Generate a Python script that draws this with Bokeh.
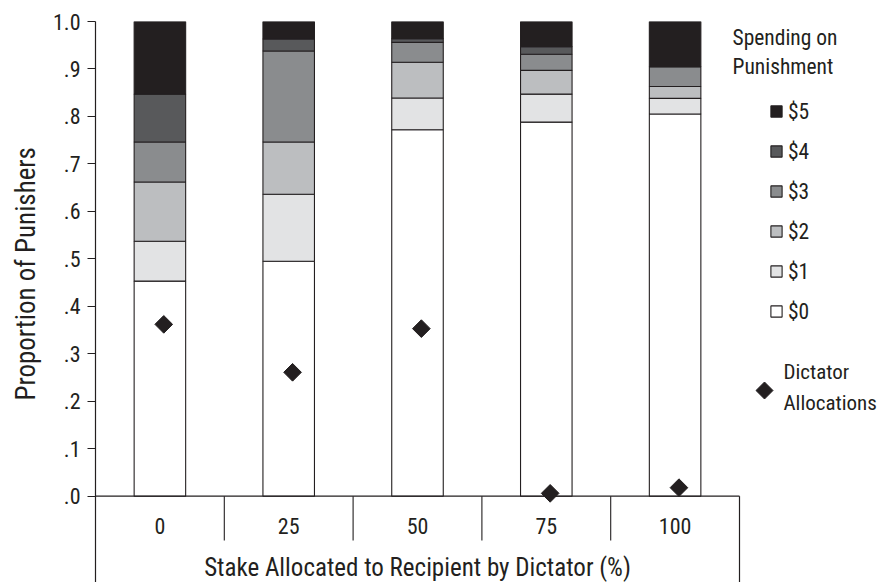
import math
from bokeh.plotting import figure
from bokeh.models import (Range1d, FixedTicker, Legend, LegendItem, Label, Title,
                          ColumnDataSource)
from bokeh.core.properties import value
from bokeh.transform import dodge
from bokeh.embed import file_html
from bokeh.resources import INLINE

FONT = "Roboto Condensed, DejaVu Sans Condensed, Liberation Sans"

# ---------------- data ----------------
stakes = ["0", "25", "50", "75", "100"]
levels = ["$0", "$1", "$2", "$3", "$4", "$5"]
p0 = [0.453, 0.495, 0.772, 0.788, 0.805]
p1 = [0.084, 0.141, 0.067, 0.059, 0.033]
p2 = [0.125, 0.110, 0.075, 0.050, 0.025]
p3 = [0.084, 0.192, 0.042, 0.034, 0.042]
p4 = [0.101, 0.025, 0.008, 0.016, 0.000]
p5 = [0.153, 0.037, 0.036, 0.053, 0.095]
dictator = [0.362, 0.261, 0.353, 0.006, 0.018]
y_ticks = [0.0, 0.1, 0.2, 0.3, 0.4, 0.5, 0.6, 0.7, 0.8, 0.9, 1.0]
y_tick_labels = [".0", ".1", ".2", ".3", ".4", ".5", ".6", ".7", ".8", ".9", "1.0"]
colors = ["#ffffff", "#e2e3e4", "#bcbec0", "#8a8c8e", "#58595b", "#231f20"]
INK = "#231f20"

# ---------------- layout (pixels) ----------------
W, H = 879, 582
LEFT, TOP = 95, 21
Y0_PX = 495.7            # pixel row of value 0
Y_PX = Y0_PX - TOP       # pixels per 1.0
CAT_PX = 128.8           # pixels per category
x_end = (W - LEFT) / CAT_PX
y_start = -(H - Y0_PX) / Y_PX


def ypix(py):
    return (Y0_PX - py) / Y_PX


def xpix(px):
    return (px - LEFT) / CAT_PX


n = len(stakes)
xc = [i + 0.5 for i in range(n)]
src = ColumnDataSource(dict(x=xc, stake=stakes, d=dictator,
                            **{lv: vals for lv, vals in zip(levels, [p0, p1, p2, p3, p4, p5])}))

p = figure(width=W, height=H, output_backend="svg", toolbar_location=None,
           x_range=Range1d(0, x_end), y_range=Range1d(y_start, 1.0),
           x_axis_type=None, min_border_left=LEFT, min_border_top=TOP,
           min_border_right=0, min_border_bottom=0)
p.outline_line_color = None
p.grid.visible = False

# y axis
ya = p.yaxis[0]
ya.ticker = FixedTicker(ticks=y_ticks)
ya.major_label_overrides = {t: l for t, l in zip(y_ticks, y_tick_labels)}
ya.major_tick_out = 8
ya.major_tick_in = 0
ya.minor_tick_line_color = None
ya.axis_line_color = INK
ya.major_tick_line_color = INK
ya.axis_line_width = 1.2
ya.major_label_standoff = 7
ya.major_label_text_font = FONT
ya.major_label_text_font_size = "22px"
ya.major_label_text_color = INK

# y title: starts at pixel row 400 and runs upward
p.add_layout(Title(text="Proportion of Punishers", align="left",
                   vertical_align="middle", offset=H - 400, standoff=14,
                   text_font=FONT, text_font_size="27px",
                   text_font_style="normal", text_color=INK), "left")

# stacked bars
rs = p.vbar_stack(levels, x="x", width=0.4, source=src, fill_color=colors,
                  line_color=INK, line_width=1.1)

# x axis line, category separators, right border
p.segment(x0=0, y0=0, x1=n, y1=0, line_color=INK, line_width=1.2)
sep_bottom = ypix(540)
p.segment(x0=list(range(1, n)), y0=[0] * (n - 1), x1=list(range(1, n)),
          y1=[sep_bottom] * (n - 1), line_color=INK, line_width=1.1)
p.segment(x0=[n], y0=[0], x1=[n], y1=[y_start], line_color=INK, line_width=1.2)

# category labels and x title
p.text(x="x", y=ypix(525.5), text="stake", source=src, text_align="center",
       text_baseline="middle", text_font=value(FONT), text_font_size="22px",
       text_color=INK)
p.text(x=[n / 2], y=[ypix(567)], text=["Stake Allocated to Recipient by Dictator (%)"],
       text_align="center", text_baseline="middle", text_font=value(FONT),
       text_font_size="25px", text_color=INK)

# dictator allocations
dm = p.scatter(x=dodge("x", 0.03, range=p.x_range), y="d", source=src,
               marker="square", angle=math.pi / 4, size=12.5,
               fill_color=INK, line_color=INK)

# legend: spending on punishment
p.add_layout(Label(x=732 - LEFT, y=H - 24, x_units="screen", y_units="screen",
                   text="Spending on\nPunishment", text_font=FONT,
                   text_font_size="21.5px", text_color=INK,
                   text_baseline="top", text_line_height=1.16))

leg = Legend(items=[LegendItem(label=lv, renderers=[r]) for lv, r in
                    reversed(list(zip(levels, rs)))],
             location=(769 - LEFT, H - 324), padding=0, margin=0,
             spacing=14, glyph_width=14, glyph_height=14, label_standoff=5,
             label_height=26, label_text_font=FONT, label_text_font_size="21.5px",
             label_text_color=INK, border_line_color=None,
             background_fill_alpha=0)
p.add_layout(leg, "center")

# legend: dictator allocations
p.scatter(x=[xpix(764)], y=[ypix(390)], marker="square", angle=math.pi / 4,
          size=12, fill_color=INK, line_color=INK)
p.add_layout(Label(x=783 - LEFT, y=H - 359, x_units="screen", y_units="screen",
                   text="Dictator\nAllocations", text_font=FONT,
                   text_font_size="21px", text_color=INK,
                   text_baseline="top", text_line_height=1.31))

open("out.html", "w").write(file_html(p, INLINE))
